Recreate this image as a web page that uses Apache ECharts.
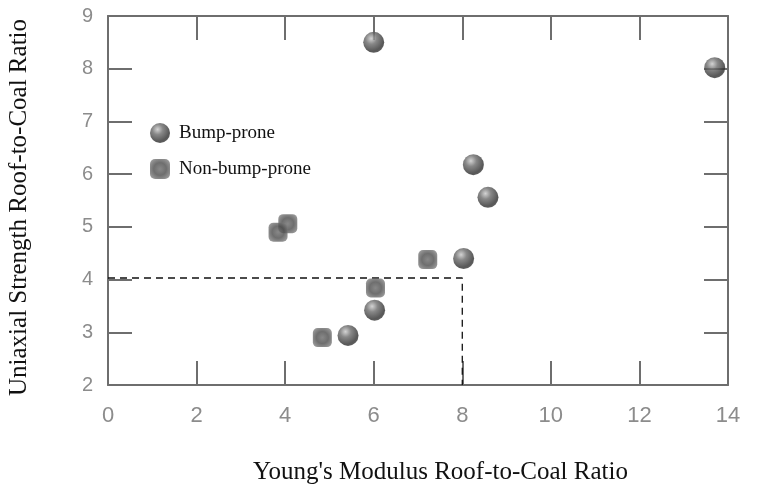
<!DOCTYPE html>
<html>
<head>
<meta charset="utf-8">
<script src="https://cdn.jsdelivr.net/npm/echarts@6/dist/echarts.min.js"></script>
<style>html,body{margin:0;padding:0;background:#fff;}#c{width:760px;height:493px;}</style>
</head>
<body>
<div id="c"></div>
<script>
// Data
const bumpX = [6.0, 13.7, 8.25, 8.58, 8.03, 6.02, 5.42];
const bumpY = [8.5, 8.02, 6.18, 5.56, 4.4, 3.42, 2.94];
const nonX = [4.06, 3.84, 7.22, 6.04, 4.84];
const nonY = [5.06, 4.9, 4.38, 3.84, 2.9];
const guideX = [0, 8, 8];
const guideY = [4.03, 4.03, 2];
const xTitle = "Young's Modulus Roof-to-Coal Ratio";
const yTitle = "Uniaxial Strength Roof-to-Coal Ratio";
const seriesNames = ['Bump-prone', 'Non-bump-prone'];

const zip = (a, b) => a.map((v, i) => [v, b[i]]);
const axisCol = '#6e6e6e';
const sphereFill = {
  type: 'radial', x: 0.38, y: 0.32, r: 0.75,
  colorStops: [
    { offset: 0, color: '#c8c8c8' },
    { offset: 0.35, color: '#6a6a6a' },
    { offset: 0.8, color: '#2e2e2e' },
    { offset: 1, color: '#3a3a3a' }
  ]
};
const squareFill = {
  type: 'radial', x: 0.5, y: 0.5, r: 0.7,
  colorStops: [
    { offset: 0, color: '#6a6a6a' },
    { offset: 0.45, color: '#4a4a4a' },
    { offset: 0.8, color: '#7a7a7a' },
    { offset: 1, color: '#999999' }
  ]
};

const chart = echarts.init(document.getElementById('c'), null, { renderer: 'canvas' });
const mkTick = () => ({ show: true, inside: true, length: 24, lineStyle: { color: axisCol, width: 2 } });
const mkLine = () => ({ show: true, onZero: false, lineStyle: { color: axisCol, width: 2 } });
chart.setOption({
  animation: false,
  backgroundColor: '#fff',
  grid: { left: 108, right: 32, top: 16, bottom: 108 },
  legend: {
    orient: 'vertical', left: 145, top: 118, itemGap: 16,
    itemWidth: 20, itemHeight: 20,
    data: [
      { name: seriesNames[0], icon: 'circle' },
      { name: seriesNames[1], icon: 'roundRect' }
    ],
    textStyle: { fontFamily: 'Liberation Serif', fontSize: 19, color: '#111', padding: [0, 0, 0, 4] }
  },
  xAxis: [
    {
      type: 'value', min: 0, max: 14, interval: 2, position: 'bottom',
      axisLine: mkLine(), axisTick: mkTick(), splitLine: { show: false },
      axisLabel: { color: '#8c8c8c', fontSize: 22, fontFamily: 'Liberation Sans', margin: 20 }
    },
    {
      type: 'value', min: 0, max: 14, interval: 2, position: 'top',
      axisLine: mkLine(), axisTick: mkTick(), splitLine: { show: false }, axisLabel: { show: false }
    }
  ],
  yAxis: [
    {
      type: 'value', min: 2, max: 9, interval: 1, position: 'left',
      axisLine: mkLine(), axisTick: mkTick(), splitLine: { show: false },
      axisLabel: { color: '#8c8c8c', fontSize: 20, fontFamily: 'Liberation Sans', margin: 15 }
    },
    {
      type: 'value', min: 2, max: 9, interval: 1, position: 'right',
      axisLine: mkLine(), axisTick: mkTick(), splitLine: { show: false }, axisLabel: { show: false }
    }
  ],
  graphic: [
    { type: 'text', left: 253, top: 460, style: { text: xTitle, font: '25px "Liberation Serif"', fill: '#111' } },
    { type: 'text', rotation: Math.PI / 2, x: 7, y: 396, style: { text: yTitle, font: '25px "Liberation Serif"', fill: '#111', textVerticalAlign: 'top' } }
  ],
  series: [
    {
      type: 'line', data: zip(guideX, guideY), showSymbol: false, symbol: 'none',
      lineStyle: { color: '#111', width: 1.3, type: [7, 5] }, silent: true, z: 1
    },
    {
      name: seriesNames[1], type: 'scatter', data: zip(nonX, nonY), symbol: 'roundRect', symbolSize: 19,
      itemStyle: { color: squareFill }, z: 3
    },
    {
      name: seriesNames[0], type: 'scatter', data: zip(bumpX, bumpY), symbol: 'circle', symbolSize: 21,
      itemStyle: { color: sphereFill }, z: 4
    }
  ]
});
</script>
</body>
</html>
